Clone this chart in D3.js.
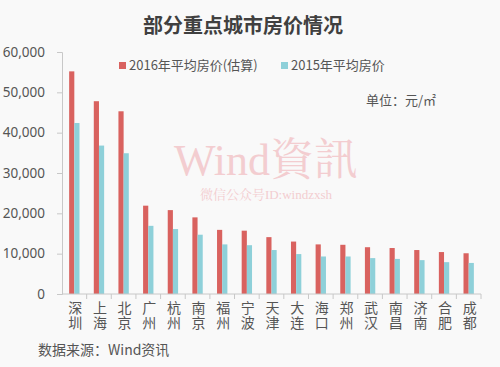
<!DOCTYPE html>
<html>
<head>
<meta charset="utf-8">
<script src="https://cdn.jsdelivr.net/npm/d3@7"></script>
<style>
  body { margin: 0; background: #f9f9f9; }
  svg { display: block; font-family: "Noto Sans CJK SC", "Noto Sans", sans-serif; }
</style>
</head>
<body>
<svg id="chart" width="500" height="367"></svg>
<script>
// data
var cities = ['深圳','上海','北京','广州','杭州','南京','福州','宁波','天津','大连','海口','郑州','武汉','南昌','济南','合肥','成都'];
var price2016 = [55200, 47800, 45300, 21900, 20800, 19000, 15900, 15700, 14100, 13000, 12300, 12200, 11600, 11400, 10900, 10400, 10100];
var price2015 = [42400, 36800, 34900, 16900, 16100, 14700, 12300, 12100, 10900, 9900, 9300, 9300, 8900, 8700, 8400, 7900, 7700];
var seriesNames = ['2016年平均房价(估算)', '2015年平均房价'];
var seriesColors = ['#d9625f', '#8ed0d9'];
var yTicks = [0, 10000, 20000, 30000, 40000, 50000, 60000];

var svg = d3.select('#chart');
var W = 500, H = 367;

svg.append('rect').attr('width', W).attr('height', H).attr('fill', '#f9f9f9');

// plot area
var margin = {left: 62, right: 481, top: 52, bottom: 294};

var x = d3.scaleBand().domain(cities).range([margin.left, margin.right]);
var xSub = d3.scaleBand().domain([0, 1]).range([x.bandwidth() * 0.29, x.bandwidth() * 0.71]);
var y = d3.scaleLinear().domain([0, 60000]).range([margin.bottom, margin.top]);

// watermark
svg.append('text')
    .attr('x', 266).attr('y', 175)
    .attr('text-anchor', 'middle')
    .attr('font-family', '"Liberation Serif", "Noto Serif CJK SC", serif')
    .attr('font-size', 44)
    .attr('fill', '#f3cdd0')
    .text('Wind資訊');
svg.append('text')
    .attr('x', 266).attr('y', 199)
    .attr('text-anchor', 'middle')
    .attr('font-family', '"Liberation Serif", "Noto Serif CJK SC", serif')
    .attr('font-size', 13)
    .attr('fill', '#f3cdd0')
    .text('微信公众号ID:windzxsh');

// bars
var groups = svg.append('g').selectAll('g')
    .data(cities)
    .enter().append('g')
    .attr('transform', function(d){ return 'translate(' + x(d) + ',0)'; });

groups.each(function(city, i){
    var vals = [price2016[i], price2015[i]];
    d3.select(this).selectAll('rect')
        .data(vals)
        .enter().append('rect')
        .attr('x', function(d, k){ return xSub(k); })
        .attr('width', xSub.bandwidth())
        .attr('y', function(d){ return y(d); })
        .attr('height', function(d){ return y(0) - y(d); })
        .attr('fill', function(d, k){ return seriesColors[k]; });
});

// y axis
var yAxis = svg.append('g')
    .attr('transform', 'translate(' + margin.left + ',0)')
    .call(d3.axisLeft(y).tickValues(yTicks).tickSize(5).tickPadding(12)
        .tickFormat(function(d){ return d === 0 ? '0' : d3.format(',')(d); }));
yAxis.select('.domain').attr('stroke', '#c8c8c8');
yAxis.selectAll('line').attr('stroke', '#c8c8c8');
yAxis.selectAll('text')
    .attr('font-size', 13.5)
    .attr('fill', '#555')
    .attr('font-family', '"Noto Sans", sans-serif');

// x axis with ticks at band boundaries
var xAxis = svg.append('g').attr('transform', 'translate(0,' + margin.bottom + ')');
xAxis.append('line')
    .attr('x1', margin.left).attr('x2', margin.right)
    .attr('stroke', '#c8c8c8');
xAxis.selectAll('.tk')
    .data(cities)
    .enter().append('line')
    .attr('class', 'tk')
    .attr('x1', function(d){ return x(d) + x.step(); })
    .attr('x2', function(d){ return x(d) + x.step(); })
    .attr('y1', 0).attr('y2', 5)
    .attr('stroke', '#c8c8c8');

// vertical city labels, written top to bottom
svg.append('g').selectAll('text')
    .data(cities)
    .enter().append('text')
    .attr('x', function(d){ return x(d) + x.bandwidth() / 2 + 1; })
    .attr('y', 301)
    .style('writing-mode', 'vertical-rl')
    .attr('font-family', '"Noto Sans CJK SC", sans-serif')
    .attr('font-size', 14)
    .attr('letter-spacing', 1)
    .attr('fill', '#555')
    .text(function(d){ return d; });

// title
svg.append('text')
    .attr('x', 243).attr('y', 33)
    .attr('text-anchor', 'middle')
    .attr('font-size', 20)
    .attr('font-weight', 'bold')
    .attr('fill', '#404040')
    .text('部分重点城市房价情况');

// legend
var legendX = [119, 281];
seriesNames.forEach(function(name, k){
    svg.append('rect')
        .attr('x', legendX[k]).attr('y', 62)
        .attr('width', 7).attr('height', 7)
        .attr('fill', seriesColors[k]);
    svg.append('text')
        .attr('x', legendX[k] + 10).attr('y', 70)
        .attr('font-size', 13)
        .attr('fill', '#555')
        .text(name);
});

// unit
svg.append('text')
    .attr('x', 366).attr('y', 105)
    .attr('font-size', 13)
    .attr('fill', '#555')
    .text('单位：元/㎡');

// source
svg.append('text')
    .attr('x', 38).attr('y', 355)
    .attr('font-size', 14)
    .attr('fill', '#555')
    .text('数据来源：Wind资讯');
</script>
</body>
</html>
